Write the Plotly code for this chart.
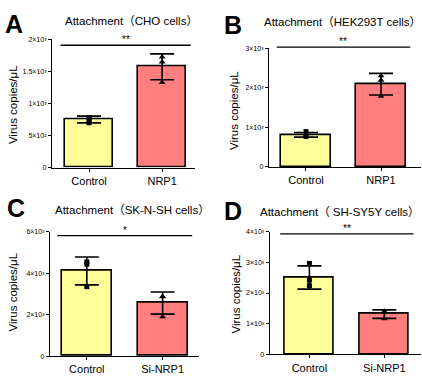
import plotly.graph_objects as go

# ---------------- data ----------------
letters = ["A", "B", "C", "D"]
titles = ["Attachment（CHO cells）", "Attachment（HEK293T cells）",
          "Attachment（SK-N-SH cells）", "Attachment（ SH-SY5Y cells）"]
cats_A = ["Control", "NRP1"]
cats_B = ["Control", "NRP1"]
cats_C = ["Control", "Si-NRP1"]
cats_D = ["Control", "Si-NRP1"]

means_A = [750, 1572]
means_B = [811, 2091]
means_C = [4105, 2558]
means_D = [2507, 1312]

sd_A = [52, 202]
sd_B = [57, 273]
sd_C = [671, 536]
sd_D = [378, 139]

ctrl_pts_A = [781, 740, 699]
ctrl_pts_B = [893, 811, 769]
ctrl_pts_C = [4543, 4430, 3347]
ctrl_pts_D = [2965, 2421, 2240]

trt_pts_A = [1725, 1648, 1327]
trt_pts_B = [2306, 2190, 1786]
trt_pts_C = [2874, 2860, 1895]
trt_pts_D = [1408, 1365, 1163]

ymax_list = [2000, 3000, 6000, 4000]
ticks_A = [0, 500, 1000, 1500, 2000]
ticks_B = [0, 1000, 2000, 3000]
ticks_C = [0, 2000, 4000, 6000]
ticks_D = [0, 1000, 2000, 3000, 4000]
ticklab_A = ["0", "5×10²", "1×10³", "1.5×10³", "2×10³"]
ticklab_B = ["0", "1×10³", "2×10³", "3×10³"]
ticklab_C = ["0", "2×10³", "4×10³", "6×10³"]
ticklab_D = ["0", "1×10³", "2×10³", "3×10³", "4×10³"]

sig_text = ["**", "**", "*", "**"]
sig_level = [1908, 3025, 5811, 3926]

# ---------------- layout geometry (pixels) ----------------
W, H = 422, 378
FONT = "Arial, Liberation Sans, Noto Sans CJK SC, sans-serif"
YELLOW = "#FFFF99"
RED = "#FF7F7F"

# x px [left, right], y px [top, bottom], x range
geom = [
    dict(x=(52, 195), y=(36, 166.7), xr=(-0.507, 1.45)),
    dict(x=(269, 421), y=(45, 166), xr=(-0.493, 1.533)),
    dict(x=(50, 199), y=(232, 358.7), xr=(-0.486, 1.48)),
    dict(x=(269.7, 421), y=(232, 357), xr=(-0.53, 1.49)),
]

cats = [cats_A, cats_B, cats_C, cats_D]
means = [means_A, means_B, means_C, means_D]
sds = [sd_A, sd_B, sd_C, sd_D]
ctrl_pts = [ctrl_pts_A, ctrl_pts_B, ctrl_pts_C, ctrl_pts_D]
trt_pts = [trt_pts_A, trt_pts_B, trt_pts_C, trt_pts_D]
ticks = [ticks_A, ticks_B, ticks_C, ticks_D]
ticklabs = [ticklab_A, ticklab_B, ticklab_C, ticklab_D]

title_pos = [(131, 17), (342, 18), (132, 210), (340, 212)]
letter_pos = [(14, 20), (233, 21), (16, 208), (233, 211)]
ytitle_pos = [(13, 103), (234, 108), (13, 294), (236, 296)]

fig = go.Figure()
layout = dict(width=W, height=H, margin=dict(l=0, r=0, t=0, b=0),
              paper_bgcolor="white", plot_bgcolor="white", showlegend=False,
              font=dict(family=FONT, color="black"), bargap=0)
shapes = []
annotations = []

for i in range(4):
    n = "" if i == 0 else str(i + 1)
    g = geom[i]
    xa, ya = "x" + n, "y" + n
    fig.add_trace(go.Bar(
        x=[0, 1], y=means[i], width=0.66,
        marker=dict(color=[YELLOW, RED], line=dict(color="black", width=1.6)),
        error_y=dict(type="data", array=sds[i], visible=True, color="black",
                     thickness=1.6, width=12),
        xaxis=xa, yaxis=ya, hoverinfo="skip"))
    fig.add_trace(go.Scatter(
        x=[0] * len(ctrl_pts[i]), y=ctrl_pts[i], mode="markers",
        marker=dict(symbol="square", size=5, color="black"),
        xaxis=xa, yaxis=ya, cliponaxis=False, hoverinfo="skip"))
    fig.add_trace(go.Scatter(
        x=[1] * len(trt_pts[i]), y=trt_pts[i], mode="markers",
        marker=dict(symbol="triangle-up", size=6, color="black"),
        xaxis=xa, yaxis=ya, cliponaxis=False, hoverinfo="skip"))

    layout["xaxis" + n] = dict(
        domain=[g["x"][0] / W, g["x"][1] / W], range=list(g["xr"]),
        anchor=ya, tickvals=[0, 1], ticktext=cats[i], ticks="outside",
        ticklen=3, tickwidth=1, tickcolor="black", showline=True,
        linecolor="black", linewidth=1.2, showgrid=False, zeroline=False,
        tickfont=dict(size=11, family=FONT, color="black"), fixedrange=True)
    layout["yaxis" + n] = dict(
        domain=[1 - g["y"][1] / H, 1 - g["y"][0] / H],
        range=[0, ymax_list[i]], anchor=xa, tickvals=ticks[i],
        ticktext=ticklabs[i], ticks="outside", ticklen=3, tickwidth=1,
        tickcolor="black", showline=True, linecolor="black", linewidth=1.2,
        showgrid=False, zeroline=False,
        tickfont=dict(size=7, family=FONT, color="black"), fixedrange=True)

    # significance bar (domain refs so it is not clipped)
    r0, r1 = g["xr"]
    yf = sig_level[i] / ymax_list[i]
    shapes.append(dict(type="line", xref=xa + " domain", yref=ya + " domain",
                       x0=(-0.39 - r0) / (r1 - r0), x1=(1.39 - r0) / (r1 - r0),
                       y0=yf, y1=yf, line=dict(color="black", width=1.3)))
    annotations.append(dict(xref=xa + " domain", yref=ya + " domain",
                            x=(0.5 - r0) / (r1 - r0), y=yf, text=sig_text[i],
                            showarrow=False, yanchor="bottom", yshift=-2,
                            font=dict(size=10, family=FONT, color="black")))
    # title
    tx, ty = title_pos[i]
    annotations.append(dict(xref="paper", yref="paper", x=tx / W, y=1 - ty / H,
                            text=titles[i], showarrow=False, xanchor="center",
                            yanchor="middle",
                            font=dict(size=11.5, family=FONT, color="black")))
    # panel letter
    lx, ly = letter_pos[i]
    annotations.append(dict(xref="paper", yref="paper", x=lx / W, y=1 - ly / H,
                            text="<b>" + letters[i] + "</b>", showarrow=False,
                            xanchor="center", yanchor="middle",
                            font=dict(size=25, family=FONT, color="black")))
    # y title
    yx, yy = ytitle_pos[i]
    annotations.append(dict(xref="paper", yref="paper", x=yx / W, y=1 - yy / H,
                            text="Virus copies/μL", showarrow=False, textangle=-90,
                            xanchor="center", yanchor="middle",
                            font=dict(size=11.5, family=FONT, color="black")))

layout["shapes"] = shapes
layout["annotations"] = annotations
fig.update_layout(**layout)
fig.write_html("out.html", config={"displayModeBar": False},
               post_script="document.body.style.margin='0';document.body.style.overflow='hidden';")
